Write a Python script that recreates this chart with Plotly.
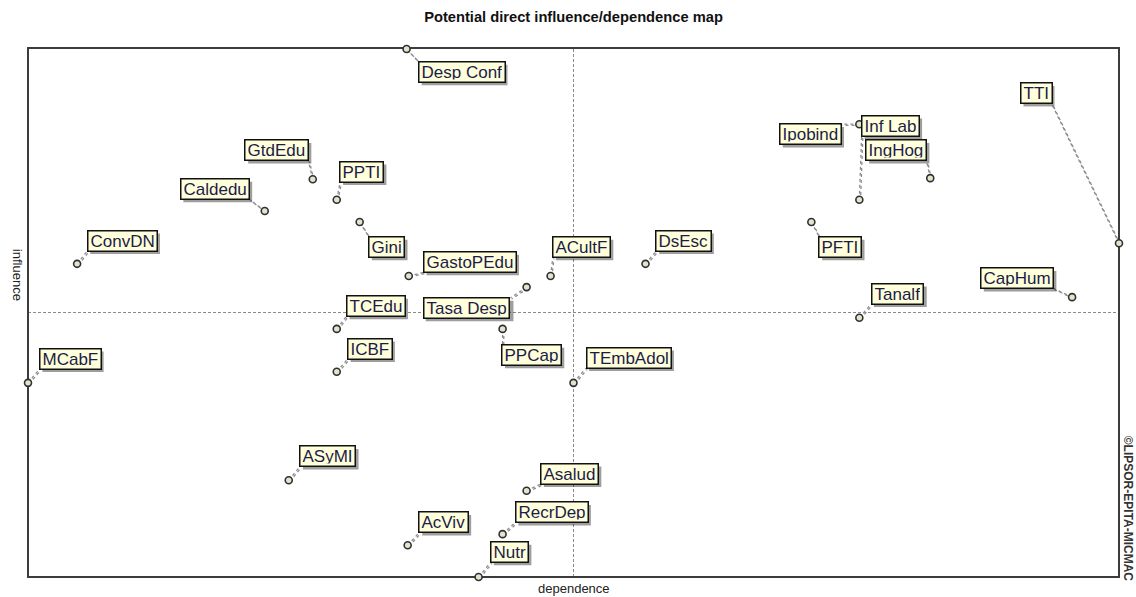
import plotly.graph_objects as go

# MICMAC potential direct influence/dependence map (values in map units 0..1000)
names = ["Desp Conf", "GtdEdu", "PPTI", "Caldedu", "Gini", "ConvDN", "GastoPEdu",
         "ACultF", "DsEsc", "Tasa Desp", "TCEdu", "ICBF", "MCabF", "PPCap",
         "TEmbAdol", "PFTI", "Tanalf", "CapHum", "TTI", "Ipobind", "Inf Lab",
         "IngHog", "ASyMI", "Asalud", "AcViv", "RecrDep", "Nutr"]
dependence = [347, 261, 283, 217, 304, 45, 349, 479, 566, 457, 283, 283, 0, 435,
              500, 718, 762, 957, 1000, 762, 762, 827, 239, 457, 348, 435, 413]
influence = [998, 752, 713, 692, 671, 592, 569, 569, 592, 548, 469, 388, 367, 469,
             367, 671, 490, 529, 631, 856, 713, 754, 183, 163, 60, 81, 0]

# label box offsets from the point, in pixels (right, down)
label_dx = [55, -36, 25, -50, 27, 45, 61, 31, 38, -60, 39, 33, 42, 29,
            55, 29, 38, -55, -83, -49, 31, -34, 39, 43, 36, 49, 31]
label_dy = [23, -29, -28, -22, 25, -23, -14, -29, -23, 21, -23, -23, -24, 26,
            -25, 25, -24, -19, -150, 10, -74, -28, -24, -17, -23, -22, -25]

W, H = 1136, 597
ml, mr, mt, mb = 28, 17, 48, 20
pw, ph = W - ml - mr, H - mt - mb
sx, sy = 1000 / pw, 1000 / ph
FONT = "Liberation Sans, Arial"
FS = 17
PAD = 2
BOXH = 15

# Arial / Liberation Sans advance widths (1/1000 em), used to size the shadows
ARIAL = {" ": 278, "A": 667, "B": 667, "C": 722, "D": 722, "E": 667, "F": 611,
         "G": 778, "H": 722, "I": 278, "L": 556, "M": 833, "N": 722, "P": 667,
         "R": 722, "S": 667, "T": 611, "U": 722, "V": 667, "a": 556, "b": 556,
         "c": 500, "d": 556, "e": 556, "f": 278, "g": 556, "h": 556, "i": 222,
         "l": 222, "m": 833, "n": 556, "o": 556, "p": 556, "r": 333, "s": 500,
         "t": 278, "u": 556, "v": 500, "y": 500}


def box_size(t):
    w = sum(ARIAL.get(c, 556) for c in t) * FS / 1000 + 2 * PAD + 1.5
    return w, BOXH + 2 * PAD + 1.5


fig = go.Figure()

# dotted leader lines from point to the near corner of the label box
lx, ly = [], []
for n, x, y, dx, dy in zip(names, dependence, influence, label_dx, label_dy):
    bw, bh = box_size(n)
    hw, hh = bw / 2, bh / 2
    ex = dx - (1 if dx > 0 else -1) * min(abs(dx), hw)
    ey = dy - (1 if dy > 0 else -1) * min(abs(dy), hh)
    lx += [x, x + ex * sx, None]
    ly += [y, y - ey * sy, None]
for off in (0, 1.2):
    fig.add_trace(go.Scatter(x=[v + off * sx if v is not None else None for v in lx],
                             y=[v - off * sy if v is not None else None for v in ly],
                             mode="lines", hoverinfo="skip",
                             line=dict(color="#8c8c8c", width=1.3, dash="dot"),
                             cliponaxis=False, showlegend=False))

fig.add_trace(go.Scatter(x=dependence, y=influence, mode="markers", text=names,
                         hoverinfo="text",
                         marker=dict(size=7, color="#e4e4cc",
                                     line=dict(color="#303030", width=1.6)),
                         cliponaxis=False, showlegend=False))

shapes = [
    dict(type="line", xref="x", yref="paper", x0=500, x1=500, y0=0, y1=1,
         line=dict(color="#8a8a8a", width=1, dash="3px,2px"), layer="below"),
    dict(type="line", xref="paper", yref="y", x0=0, x1=1, y0=500, y1=500,
         line=dict(color="#8a8a8a", width=1, dash="3px,2px"), layer="below"),
    dict(type="rect", xref="paper", yref="paper", x0=0, x1=1, y0=0, y1=1,
         line=dict(color="#3c3c3c", width=2), layer="below"),
]
annotations = []
for n, x, y, dx, dy in zip(names, dependence, influence, label_dx, label_dy):
    bw, bh = box_size(n)
    # drop shadow behind each label box
    shapes.append(dict(type="rect", xref="x", yref="y", xsizemode="pixel",
                       ysizemode="pixel", xanchor=x, yanchor=y,
                       x0=dx - bw / 2 + 3, x1=dx + bw / 2 + 3,
                       y0=-dy - bh / 2 - 3, y1=-dy + bh / 2 - 3,
                       fillcolor="rgba(40,40,40,0.45)", line=dict(width=0),
                       layer="above"))
    annotations.append(dict(x=x, y=y, xref="x", yref="y", text=n, showarrow=False,
                            xshift=dx, yshift=-dy, height=BOXH,
                            font=dict(family=FONT, size=FS, color="#1c1c48"),
                            bgcolor="#ffffdc", bordercolor="#111111",
                            borderwidth=1.5, borderpad=PAD))

annotations += [
    dict(text="dependence", xref="paper", yref="paper", x=0.5, y=-0.021,
         showarrow=False, yanchor="middle",
         font=dict(family=FONT, size=13, color="#222222")),
    dict(text="influence", xref="paper", yref="paper", x=-0.010, y=0.571,
         showarrow=False, textangle=90, xanchor="center", yanchor="middle",
         font=dict(family=FONT, size=13, color="#222222")),
    dict(text="<b>©LIPSOR-EPITA-MICMAC</b>", xref="paper", yref="paper",
         x=1.0083, y=0.129, showarrow=False, textangle=90,
         xanchor="center", yanchor="middle",
         font=dict(family=FONT, size=12, color="#333333")),
]

fig.update_layout(
    width=W, height=H,
    margin=dict(l=ml, r=mr, t=mt, b=mb),
    paper_bgcolor="white", plot_bgcolor="white",
    title=dict(text="<b>Potential direct influence/dependence map</b>",
               x=(ml + pw / 2) / W, xanchor="center", y=1 - 17 / H,
               yanchor="middle",
               font=dict(family=FONT, size=14.7, color="#111111")),
    annotations=annotations,
    shapes=shapes,
)

fig.update_xaxes(range=[0, 1000], showgrid=False, zeroline=False,
                 showticklabels=False, ticks="")
fig.update_yaxes(range=[0, 1000], showgrid=False, zeroline=False,
                 showticklabels=False, ticks="")

fig.write_html("out.html", config={"displayModeBar": False},
               post_script="document.body.style.margin='0';"
                           "document.body.style.overflow='hidden';")
